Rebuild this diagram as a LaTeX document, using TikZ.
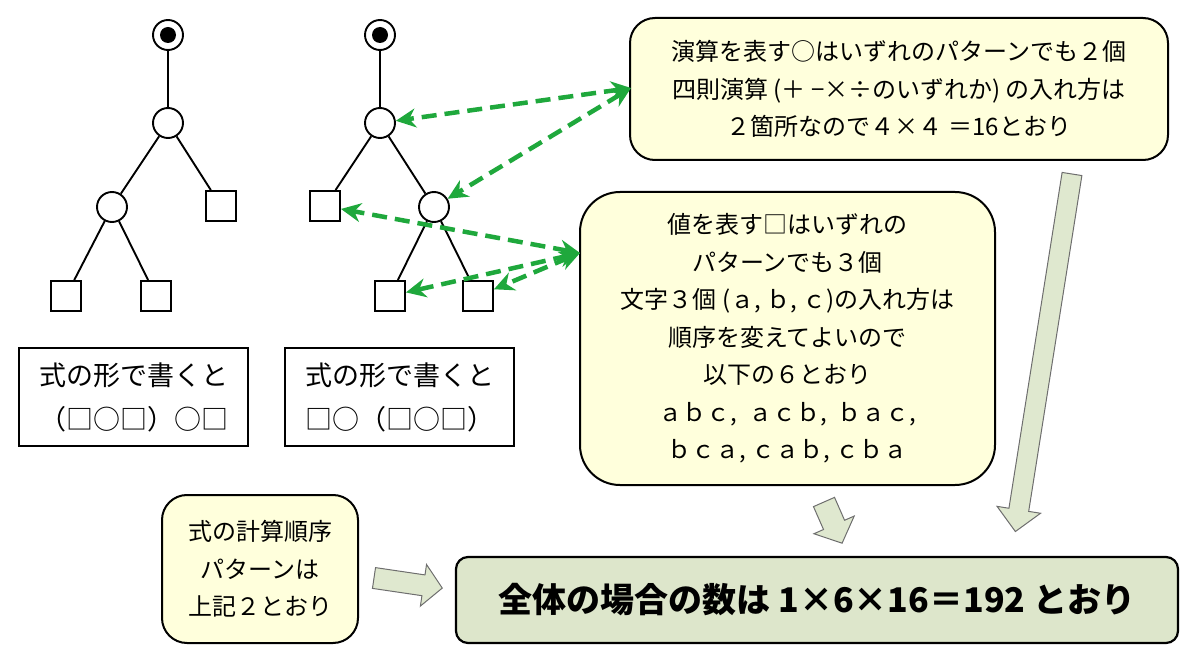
\documentclass[tikz,border=0pt]{standalone}
\usepackage{fontspec}
\setmainfont{Noto Sans CJK JP}
\usetikzlibrary{arrows.meta}
\definecolor{callfill}{HTML}{FFFFDC}
\definecolor{resfill}{HTML}{DDE6CB}
\definecolor{blkfill}{HTML}{DFE8CF}
\definecolor{blkline}{HTML}{6E6E6E}
\definecolor{garrow}{HTML}{1FA83C}
\newcommand\blkarr[7]{\begin{scope}[shift={(#1,#2)},rotate=#3]\filldraw[blkarrow] (0,-#5) -- (#4-#7,-#5) -- (#4-#7,-#6) -- (#4,0) -- (#4-#7,#6) -- (#4-#7,#5) -- (0,#5) -- cycle;\end{scope}}
\begin{document}
\begin{tikzpicture}[x=1pt,y=-1pt,
  opc/.style={circle,draw,line width=1.9pt,minimum size=30pt,inner sep=0pt,fill=white},
  valsq/.style={rectangle,draw,line width=1.9pt,minimum size=30pt,inner sep=0pt,fill=white},
  rootin/.style={circle,fill=black,minimum size=16pt,inner sep=0pt},
  treeedge/.style={line width=1.9pt},
  callout/.style={draw,line width=2pt,fill=callfill,align=center,font=\fontsize{24pt}{37.5pt}\selectfont},
  formbox/.style={draw,line width=2pt,fill=white,align=left,minimum width=229pt,minimum height=98pt,font=\fontsize{27pt}{44pt}\selectfont},
  gdash/.style={draw=garrow,line width=4.5pt,dash pattern=on 15pt off 8pt,{Stealth[length=20pt,width=19pt]}-{Stealth[length=20pt,width=19pt]}},
  blkarrow/.style={fill=blkfill,draw=blkline,line width=1pt,line join=miter}]
\useasboundingbox (0,0) rectangle (1200,663);
% tree 1
\node[opc] (r1) at (168,35) {};
\node[rootin] (r1in) at (r1) {};
\node[opc] (a1) at (168,123) {};
\node[opc] (b1) at (112,207) {};
\node[valsq] (s1) at (221,206) {};
\node[valsq] (l1) at (66,296) {};
\node[valsq] (l2) at (156,296) {};
\draw[treeedge] (r1) -- (a1);
\draw[treeedge] (a1) -- (b1);
\draw[treeedge] (a1) -- (s1);
\draw[treeedge] (b1) -- (l1);
\draw[treeedge] (b1) -- (l2);
% tree 2
\node[opc] (r2) at (380,35) {};
\node[rootin] (r2in) at (r2) {};
\node[opc] (a2) at (380,123) {};
\node[valsq] (s2) at (325,206) {};
\node[opc] (b2) at (434,207) {};
\node[valsq] (l3) at (390,296) {};
\node[valsq] (l4) at (478,296) {};
\draw[treeedge] (r2) -- (a2);
\draw[treeedge] (a2) -- (s2);
\draw[treeedge] (a2) -- (b2);
\draw[treeedge] (b2) -- (l3);
\draw[treeedge] (b2) -- (l4);
% formula boxes
\node[formbox] (f1) at (133.5,397) {式の形で書くと\\（□○□）○□};
\node[formbox] (f2) at (399.5,397) {式の形で書くと\\□○（□○□）};
% callouts
\node[callout,rounded corners=25pt,minimum width=538pt,minimum height=142pt] (c1) at (899,89)
  {演算を表す○はいずれのパターンでも２個\\四則演算 (＋ −×÷のいずれか) の入れ方は\\２箇所なので４×４ ＝16とおり};
\node[callout,rounded corners=40pt,minimum width=415pt,minimum height=293pt] (c2) at (787.5,338.5)
  {値を表す□はいずれの\\パターンでも３個\\文字３個 (ａ, ｂ, ｃ)の入れ方は\\順序を変えてよいので\\以下の６とおり\\ａｂｃ,\ \ ａｃｂ,\ \ ｂａｃ,\\ｂｃａ, ｃａｂ, ｃｂａ};
\node[callout,rounded corners=25pt,minimum width=196pt,minimum height=148pt] (c3) at (260,569)
  {式の計算順序\\パターンは\\上記２とおり};
\node[draw,line width=2.2pt,fill=resfill,rounded corners=12pt,minimum width=722pt,minimum height=86pt,
  font=\fontsize{34pt}{40pt}\selectfont\bfseries] (res) at (817,600) {全体の場合の数は 1×6×16＝192 とおり};
% green dashed connectors
\coordinate (p1) at (631,88);
\coordinate (p2) at (580,253);
\draw[gdash] (p1) -- (a2);
\draw[gdash] (p1) -- (b2);
\draw[gdash] (p2) -- (s2);
\draw[gdash] (p2) -- (l3);
\draw[gdash] (p2) -- (l4);
% block arrows
\blkarr{374}{578}{-8.4}{69}{10.5}{21}{19}
\blkarr{824}{502}{-66.3}{45}{11.5}{22}{20}
\blkarr{1072}{174}{-99}{362}{10}{22}{22}
\end{tikzpicture}
\end{document}
